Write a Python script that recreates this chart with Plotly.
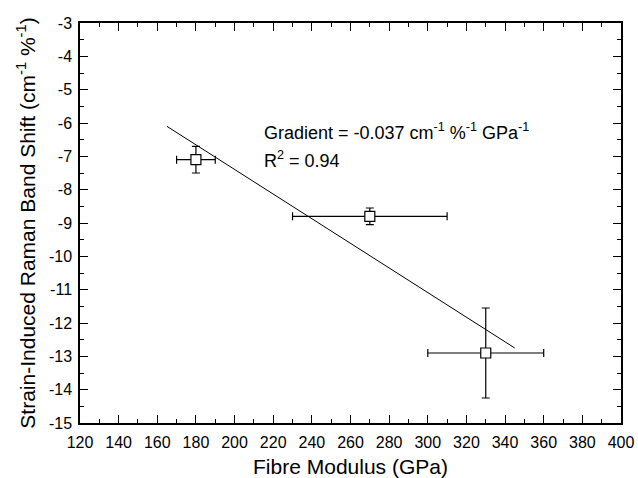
import plotly.graph_objects as go

# Data
modulus = [180, 270, 330]            # GPa
shift = [-7.1, -8.8, -12.9]          # cm^-1 %^-1
modulus_err = [10, 40, 30]
shift_err = [0.4, 0.25, 1.35]

fit_x = [165, 345]
fit_y = [-6.1, -12.75]

x_ticks = list(range(120, 401, 20))
y_ticks = list(range(-15, -2, 1))
x_ticktext = [str(v) for v in x_ticks]
y_ticktext = [str(v) for v in y_ticks]   # hyphen-minus, as in the reference

FONT = "Liberation Sans, Arial, sans-serif"

fig = go.Figure()

fig.add_trace(go.Scatter(
    x=fit_x, y=fit_y, mode="lines",
    line=dict(color="black", width=1),
    showlegend=False, hoverinfo="skip",
))

fig.add_trace(go.Scatter(
    x=modulus, y=shift, mode="markers",
    marker=dict(symbol="square", size=10, color="white",
                line=dict(color="black", width=1.2)),
    error_x=dict(type="data", array=modulus_err, color="black",
                 thickness=1.2, width=4),
    error_y=dict(type="data", array=shift_err, color="black",
                 thickness=1.2, width=4),
    showlegend=False,
))

fig.add_annotation(
    x=0.336, y=0.73, xref="paper", yref="paper",
    xanchor="left", yanchor="middle", showarrow=False,
    text="Gradient = -0.037 cm<sup>-1</sup> %<sup>-1</sup> GPa<sup>-1</sup>",
    font=dict(family=FONT, size=18, color="black"),
)
fig.add_annotation(
    x=0.336, y=0.658, xref="paper", yref="paper",
    xanchor="left", yanchor="middle", showarrow=False,
    text="R<sup>2</sup> = 0.94",
    font=dict(family=FONT, size=18, color="black"),
)

fig.update_xaxes(
    range=[120, 400], tickmode="array", tickvals=x_ticks, ticktext=x_ticktext,
    ticks="inside", ticklen=8, tickwidth=1.2, tickcolor="black",
    minor=dict(ticks="inside", ticklen=4, dtick=10, tick0=120,
               tickcolor="black", tickwidth=1.2),
    showline=True, linecolor="black", linewidth=1.5, mirror="ticks",
    showgrid=False, zeroline=False, automargin=False,
    ticklabelstandoff=4,
    tickfont=dict(family=FONT, size=16, color="black"),
    title=dict(text="Fibre Modulus (GPa)", standoff=12,
               font=dict(family=FONT, size=21, color="black")),
)
fig.update_yaxes(
    range=[-15, -3], tickmode="array", tickvals=y_ticks, ticktext=y_ticktext,
    ticks="inside", ticklen=8, tickwidth=1.2, tickcolor="black",
    minor=dict(ticks="inside", ticklen=4, dtick=0.5, tick0=-15,
               tickcolor="black", tickwidth=1.2),
    showline=True, linecolor="black", linewidth=1.5, mirror="ticks",
    showgrid=False, zeroline=False, automargin=False,
    ticklabelstandoff=3,
    tickfont=dict(family=FONT, size=16, color="black"),
    title=dict(text="Strain-Induced Raman Band Shift (cm<sup>-1</sup> %<sup>-1</sup>)",
               standoff=8,
               font=dict(family=FONT, size=21, color="black")),
)

fig.update_layout(
    width=638, height=478,
    margin=dict(l=80, r=17, t=23, b=55),
    paper_bgcolor="white", plot_bgcolor="white",
)

fig.write_html("out.html")
